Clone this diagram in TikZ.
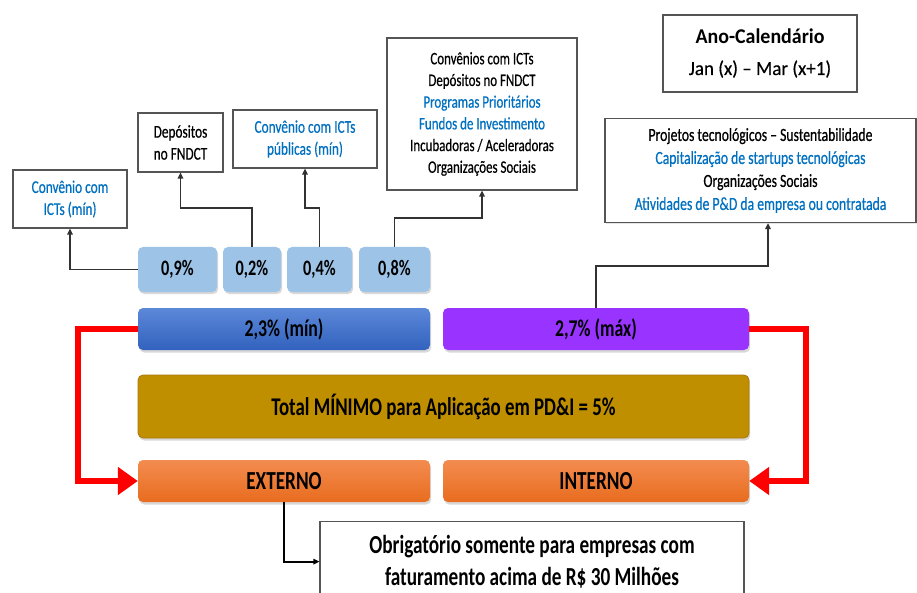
\documentclass[tikz,border=0pt]{standalone}
\usepackage{fontspec}
\setmainfont{Carlito}[FakeStretch=0.74, UprightFeatures={FakeBold=0.5}]
\newfontfamily\anofont{Carlito}[FakeStretch=0.95, UprightFeatures={FakeBold=0.3}]
\usetikzlibrary{arrows.meta,shadows,calc}
\definecolor{tblue}{RGB}{0,112,192}
\definecolor{lblue}{RGB}{157,195,230}
\definecolor{boxgray}{RGB}{85,85,85}
\definecolor{conngray}{RGB}{50,50,50}
\definecolor{bluetop}{RGB}{92,136,216}
\definecolor{bluebot}{RGB}{50,98,190}
\definecolor{purp}{RGB}{153,51,255}
\definecolor{gold}{RGB}{191,143,0}
\definecolor{goldedge}{RGB}{170,120,20}
\definecolor{orangetop}{RGB}{243,140,80}
\definecolor{orangebot}{RGB}{232,108,30}
\tikzset{
  wbox/.style={draw=boxgray, line width=1.2pt, fill=white, align=center, inner sep=0pt,
    drop shadow={shadow xshift=1.2pt, shadow yshift=-1.5pt, opacity=.2}},
  topfont/.style={font=\fontsize{18}{22}\selectfont},
  pbox/.style={rounded corners=5pt, fill=lblue, minimum height=45pt, inner sep=0pt,
    font=\bfseries\fontsize{22}{26}\selectfont,
    drop shadow={shadow xshift=1.2pt, shadow yshift=-2pt, opacity=.3}},
  bar/.style={rounded corners=5pt, minimum height=42pt, inner sep=0pt,
    font=\bfseries\fontsize{24}{28}\selectfont,
    drop shadow={shadow xshift=1.2pt, shadow yshift=-2.5pt, opacity=.3}},
  conn/.style={draw=conngray, line width=1.5pt, -{Triangle[length=6pt,width=5.5pt]}},
  rarrow/.style={draw=red, line width=6.5pt, -{Triangle[length=20pt,width=27pt]}},
}
\begin{document}
\begin{tikzpicture}[x=1pt,y=-1pt]
\clip (0,0) rectangle (917,593);
\fill[white] (0,0) rectangle (917,593);

% top white boxes
\node[wbox, topfont, minimum width=114pt, minimum height=58pt] (c1) at (70,199)
  {\color{tblue}Convênio com\\\color{tblue}ICTs (mín)};
\node[wbox, topfont, minimum width=85pt, minimum height=59pt] (dep) at (180.5,142.5)
  {Depósitos\\no FNDCT};
\node[wbox, topfont, minimum width=144pt, minimum height=58pt] (pub) at (305,139)
  {\color{tblue}Convênio com ICTs\\\color{tblue}públicas (mín)};
\node[wbox, font=\fontsize{17.5}{21.7}\selectfont, minimum width=190pt, minimum height=152pt] (big) at (482,114)
  {Convênios com ICTs\\Depósitos no FNDCT\\\textcolor{tblue}{Programas Prioritários}\\\textcolor{tblue}{Fundos de Investimento}\\Incubadoras / Aceleradoras\\Organizações Sociais};
\node[wbox, font=\anofont\fontsize{20}{31}\selectfont, minimum width=194pt, minimum height=77pt] (ano) at (760,53.5)
  {{\bfseries\fontsize{21}{31}\selectfont Ano-Calendário}\\Jan (x) – Mar (x+1)};
\node[wbox, font=\fontsize{18.5}{23}\selectfont, minimum width=311pt, minimum height=104pt] (proj) at (760.5,170.5)
  {Projetos tecnológicos – Sustentabilidade\\\textcolor{tblue}{Capitalização de startups tecnológicas}\\Organizações Sociais\\\textcolor{tblue}{Atividades de P\&D da empresa ou contratada}};

% percentage boxes
\node[pbox, minimum width=79pt] (p09) at (177.5,269.5) {0,9\%};
\node[pbox, minimum width=58pt] (p02) at (252,269.5) {0,2\%};
\node[pbox, minimum width=65pt] (p04) at (319.5,269.5) {0,4\%};
\node[pbox, minimum width=71pt] (p08) at (394.5,269.5) {0,8\%};

% bars
\node[bar, minimum width=292pt, top color=bluetop, bottom color=bluebot] (b23) at (284,329) {2,3\% (mín)};
\node[bar, minimum width=306pt, fill=purp] (b27) at (596,329) {2,7\% (máx)};
\node[bar, minimum width=611pt, minimum height=63pt, fill=gold, draw=goldedge, line width=0.8pt,
  font=\bfseries\fontsize{25.5}{30}\selectfont] (tot) at (443.5,406.5) {Total MÍNIMO para Aplicação em PD\&I = 5\%};
\node[bar, minimum width=292pt, top color=orangetop, bottom color=orangebot,
  font=\bfseries\fontsize{26}{30}\selectfont] (ext) at (284,481) {EXTERNO};
\node[bar, minimum width=306pt, top color=orangetop, bottom color=orangebot,
  font=\bfseries\fontsize{26}{30}\selectfont] (int) at (596,481) {INTERNO};

% bottom box
\node[draw=boxgray, line width=1.2pt, fill=white, align=center, inner sep=0pt, font=\bfseries\fontsize{26}{32}\selectfont, minimum width=424pt, minimum height=80pt, anchor=north] (obr) at (532,521)
  {Obrigatório somente para empresas com\\faturamento acima de R\$ 30 Milhões};

% connectors
\draw[conn] (p09.west) -| (c1.south);
\draw[conn] (p02.north) -- ++(0,-39) -| (dep.south);
\draw[conn] (p04.north) -- ++(0,-39) -| (pub.south);
\draw[conn] (p08.north) -- ++(0,-29) -| (big.south);
\draw[conn] (b27.north) -- ++(0,-42) -| ($(proj.south)+(7.5,0)$);
\draw[conn, draw=black, line width=2pt] (ext.south) |- (obr.west);

% red arrows
\draw[rarrow] (b23.west) -- ++(-60,0) |- (ext.west);
\draw[rarrow] (b27.east) -- ++(57,0) |- (int.east);
\end{tikzpicture}
\end{document}
